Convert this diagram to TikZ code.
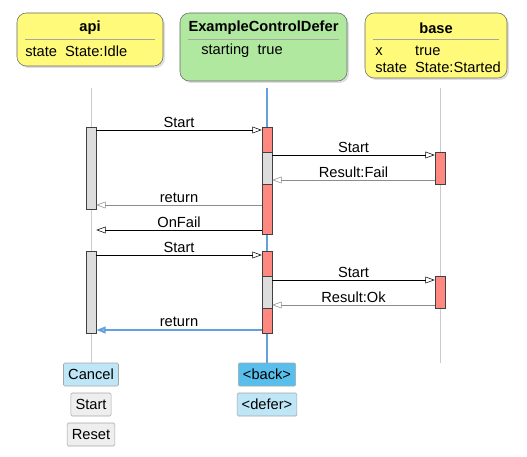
\documentclass[tikz,border=0pt]{standalone}
\usepackage{fontspec}
\setmainfont{Liberation Sans}
\definecolor{NoteYellow}{RGB}{255, 250, 122}
\definecolor{CtrlGreen}{RGB}{176, 232, 160}
\definecolor{ActRed}{RGB}{255, 137, 128}
\definecolor{ActGrey}{RGB}{221, 221, 221}
\definecolor{LifeBlue}{RGB}{100, 160, 222}
\definecolor{BtnBlue}{RGB}{190, 230, 247}
\definecolor{BtnDeep}{RGB}{88, 190, 235}
\definecolor{BtnGrey}{RGB}{238, 238, 238}
\usetikzlibrary{arrows.meta,shadows}

\begin{document}
\begin{tikzpicture}[
    x=0.75pt, y=-0.75pt,
    font=\fontsize{11}{13}\selectfont,
    actor/.style={draw=black!60, rounded corners=7pt, fill=NoteYellow, inner sep=0pt,
        drop shadow={opacity=0.25, shadow xshift=1.5pt, shadow yshift=-1.5pt}},
    title/.style={font=\fontsize{11}{13}\selectfont\bfseries},
    sep/.style={draw=black!35, thin},
    life/.style={draw=black!20, thin},
    act/.style={draw=black!75, fill=ActRed, minimum width=7.5pt, inner sep=0pt},
    sub/.style={act, fill=ActGrey},
    msg/.style={-{Triangle[open, length=7pt, width=5pt]}, thin},
    ret/.style={msg, black!45},
    lbl/.style={above, inner sep=1.5pt},
    btn/.style={draw=black!35, fill=BtnGrey, rounded corners=1pt, inner xsep=3.5pt, inner ysep=2.5pt, minimum height=17.25pt}
]
    \useasboundingbox (0,0) rectangle (527,456);

    % participants
    \node[actor, minimum width=146*0.75pt, minimum height=53*0.75pt] (api) at (90,39.5) {};
    \node[actor, fill=CtrlGreen, minimum width=167*0.75pt, minimum height=68*0.75pt] (ecd) at (263.5,47) {};
    \node[actor, minimum width=142*0.75pt, minimum height=65*0.75pt] (base) at (436,45.5) {};

    \node[title] (apiT) at (90,28) {api};
    \node[title] (ecdT) at (263.5,28) {ExampleControlDefer};
    \node[title] (baseT) at (436,28) {base};
    \draw[sep] (25,39) -- (155,39);
    \draw[sep] (188,39) -- (339,39);
    \draw[sep] (373,39) -- (499,39);

    \node[anchor=west, inner sep=0pt] (apiV) at (25,51) {state\ \ State:Idle};
    \node[anchor=west, inner sep=0pt] (ecdV) at (201,51) {starting\ \ true};
    \node[anchor=north west, inner sep=0pt] (baseV) at (375,44)
        {\renewcommand{\arraystretch}{0.95}\begin{tabular}{@{}l@{\ \ }l@{}}x & true\\ state & State:Started\end{tabular}};

    % buttons
    \node[btn, fill=BtnBlue] (cancel) at (91,374.5) {Cancel};
    \node[btn] (start) at (91,404.5) {Start};
    \node[btn] (reset) at (91,434.5) {Reset};
    \node[btn, fill=BtnDeep] (back) at (267,374.5) {<back>};
    \node[btn, fill=BtnBlue] (defer) at (267,404.5) {<defer>};

    % lifelines
    \coordinate (apiTop) at (91,88);
    \coordinate (ecdTop) at (267,88);
    \coordinate (baseTop) at (440,88);
    \coordinate (baseEnd) at (440,363);
    \draw[life] (apiTop) -- (cancel.north);
    \draw[LifeBlue, line width=1.5pt] (ecdTop) -- (back.north);
    \draw[life] (baseTop) -- (baseEnd);

    % activations
    \node[sub, minimum height=82*0.75pt] (aa1) at (91,168) {};
    \node[sub, minimum height=82*0.75pt] (aa2) at (91,292) {};
    \node[act, minimum height=107*0.75pt] (ca1) at (267,180.5) {};
    \node[sub, minimum height=32*0.75pt] (cg1) at (267,168) {};
    \node[act, minimum height=82*0.75pt] (ca2) at (267,292) {};
    \node[sub, minimum height=32*0.75pt] (cg2) at (267,292) {};
    \node[act, minimum height=32*0.75pt] (ba1) at (440,168) {};
    \node[act, minimum height=32*0.75pt] (ba2) at (440,292) {};

    % message rows
    \coordinate (r1) at (0,130);
    \coordinate (r2) at (0,155);
    \coordinate (r3) at (0,180);
    \coordinate (r4) at (0,205);
    \coordinate (r5) at (0,230);
    \coordinate (r6) at (0,255);
    \coordinate (r7) at (0,280);
    \coordinate (r8) at (0,305);
    \coordinate (r9) at (0,330);

    % messages
    \draw[msg] (aa1.east |- r1) -- node[lbl]{Start} (ca1.west |- r1);
    \draw[msg] (cg1.east |- r2) -- node[lbl]{Start} (ba1.west |- r2);
    \draw[ret] (ba1.west |- r3) -- node[lbl, text=black]{Result:Fail} (cg1.east |- r3);
    \draw[ret] (ca1.west |- r4) -- node[lbl, text=black]{return} (aa1.east |- r4);
    \draw[msg] (ca1.west |- r5) -- node[lbl]{OnFail} (aa1.east |- r5);
    \draw[msg] (aa2.east |- r6) -- node[lbl]{Start} (ca2.west |- r6);
    \draw[msg] (cg2.east |- r7) -- node[lbl]{Start} (ba2.west |- r7);
    \draw[ret] (ba2.west |- r8) -- node[lbl, text=black]{Result:Ok} (cg2.east |- r8);
    \draw[msg, LifeBlue, line width=1.5pt] (ca2.west |- r9) -- node[lbl, text=black]{return} (aa2.east |- r9);
\end{tikzpicture}
\end{document}
